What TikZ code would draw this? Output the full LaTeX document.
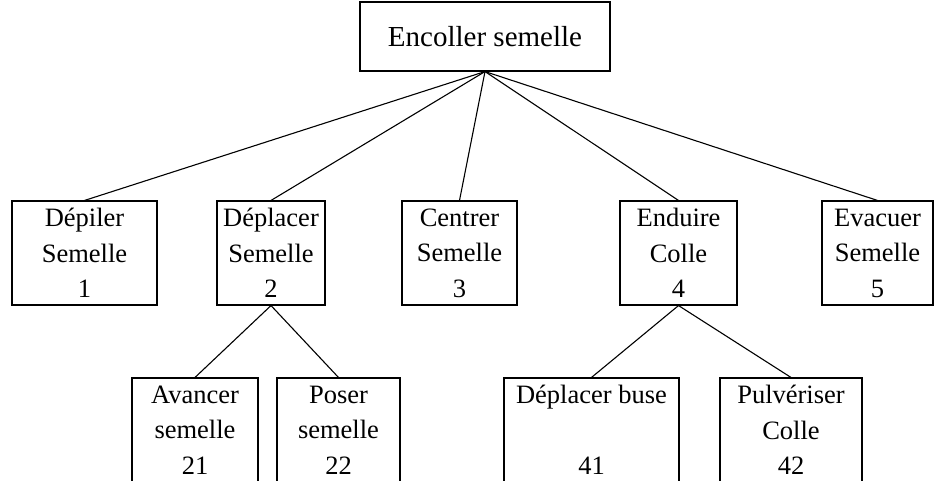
\documentclass[tikz,border=0pt]{standalone}
\usepackage{fontspec}
\setmainfont{Liberation Serif}

\begin{document}
\begin{tikzpicture}[
      x=1pt,y=-1pt,
      line width=1.1pt,
      box/.style={draw,align=center,inner sep=0pt,minimum height=104pt,
        font=\fontsize{26.5}{35.5}\selectfont},
      topbox/.style={draw,align=center,inner sep=0pt,minimum width=250pt,minimum height=69pt,
        font=\fontsize{29}{36}\selectfont}]
    \useasboundingbox (0,0) rectangle (935,480);
    % root
    \node[topbox] (root) at (485,36.5) {Encoller semelle};
    % level 1
    \node[box,minimum width=145pt] (dep) at (84.5,253) {Dépiler\\ Semelle\\ 1};
    \node[box,minimum width=108pt] (dpl) at (271,253) {Déplacer\\ Semelle\\ 2};
    \node[box,minimum width=115pt] (cen) at (459.5,253) {Centrer\\ Semelle\\ 3};
    \node[box,minimum width=117pt] (end) at (678.5,253) {Enduire\\ Colle\\ 4};
    \node[box,minimum width=111pt] (eva) at (877.5,253) {Evacuer\\ Semelle\\ 5};
    % level 2
    \node[box,minimum width=126pt] (ava) at (195,430) {Avancer\\ semelle\\ 21};
    \node[box,minimum width=123pt] (pos) at (338.5,430) {Poser\\ semelle\\ 22};
    \node[box,minimum width=175pt] (buse) at (591.5,430) {Déplacer buse\\ ~\\ 41};
    \node[box,minimum width=142pt] (pul) at (791,430) {Pulvériser\\ Colle\\ 42};
    \draw (root.south) -- (dep.north);
    \draw (root.south) -- (dpl.north);
    \draw (root.south) -- (cen.north);
    \draw (root.south) -- (end.north);
    \draw (root.south) -- (eva.north);
    \draw (dpl.south) -- (ava.north);
    \draw (dpl.south) -- (pos.north);
    \draw (end.south) -- (buse.north);
    \draw (end.south) -- (pul.north);
  \end{tikzpicture}
\end{document}
